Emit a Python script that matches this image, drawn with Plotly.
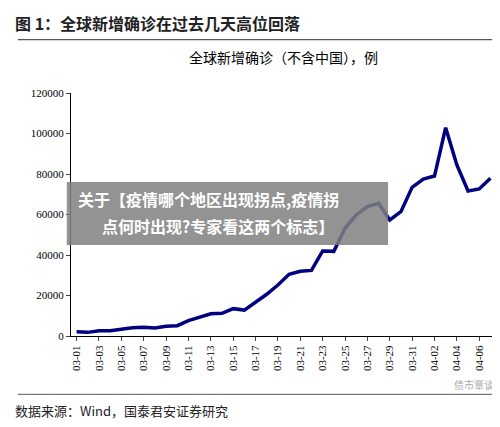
import plotly.graph_objects as go

dates = ["03-%02d" % d for d in range(1, 32)] + ["04-%02d" % d for d in range(1, 8)]
new_cases = [2100, 1800, 2600, 2600, 3300, 4100, 4300, 3900, 4800, 5100,
             7600, 9200, 11000, 11200, 13500, 12800, 16600, 20600, 25200, 30500,
             32000, 32400, 42000, 41800, 53200, 59800, 63900, 65500, 57300, 61400,
             73400, 77500, 79000, 102900, 84500, 71600, 72600, 77900]
tick_idx = list(range(0, 38, 2))
tick_text = [dates[i] for i in tick_idx]
banner_lines = ["关于【疫情哪个地区出现拐点,疫情拐", "点何时出现?专家看这两个标志】"]

font = "Noto Sans CJK SC"
fig = go.Figure()
fig.add_trace(go.Scatter(x=list(range(len(dates))), y=new_cases, mode="lines",
                         line=dict(color="#000080", width=3.5)))

fig.update_layout(
    width=500, height=427, margin=dict(l=63, r=12, t=85, b=99),
    paper_bgcolor="white", plot_bgcolor="white", showlegend=False,
    font=dict(family="Liberation Serif, serif", size=11, color="black"),
    xaxis=dict(range=[-0.5, 37.5], tickvals=tick_idx, ticktext=tick_text, tickangle=-90,
               showline=True, linecolor="black", ticks="outside", ticklen=4,
               showgrid=False, zeroline=False, automargin=False,
               tickfont=dict(family="Liberation Serif", size=11)),
    yaxis=dict(range=[0, 120000], dtick=20000, tickformat="d", showline=True,
               linecolor="black", ticks="outside", ticklen=4, showgrid=False,
               zeroline=False, automargin=False,
               tickfont=dict(family="Liberation Serif", size=11)),
)

fig.add_annotation(text="<b>图 1：全球新增确诊在过去几天高位回落</b>", xref="paper", yref="paper",
                   x=0, xanchor="left", y=1, yanchor="top", xshift=-58, yshift=84,
                   showarrow=False, font=dict(family=font, size=16, color="#222"))
fig.add_shape(type="line", xref="paper", yref="paper", x0=-0.125, x1=1.02,
              y0=1.22, y1=1.22, line=dict(color="#555", width=1.2))
fig.add_annotation(text="全球新增确诊（不含中国），例", xref="paper", yref="paper",
                   x=0.5, y=1.1, yanchor="bottom", showarrow=False,
                   font=dict(family=font, size=14, color="black"))
fig.add_annotation(text="数据来源：Wind，国泰君安证券研究", xref="paper", yref="paper",
                   x=0, xanchor="left", y=0, yanchor="top", xshift=-58, yshift=-63,
                   showarrow=False, font=dict(family=font, size=13, color="#222"))
fig.add_shape(type="line", xref="paper", yref="paper", x0=-0.125, x1=1.02,
              y0=-0.24, y1=-0.24, line=dict(color="#555", width=1))

# overlay banner
fig.add_shape(type="rect", xref="paper", yref="paper", x0=-0.01, x1=0.746,
              y0=0.375, y1=0.634, fillcolor="rgba(128,128,128,0.85)", line=dict(width=0))
for i, (line_txt, xl) in enumerate(zip(banner_lines, [0.012, 0.068])):
    fig.add_annotation(text="<b>" + line_txt + "</b>", xref="paper", yref="paper",
                       x=xl, xanchor="left", y=0.562 - i * 0.108, yanchor="middle",
                       showarrow=False, font=dict(family=font, size=16, color="white"))
fig.add_annotation(text="债市覃谈", xref="paper", yref="paper", x=1, xanchor="right",
                   y=-0.24, yanchor="bottom", showarrow=False,
                   font=dict(family=font, size=10, color="#aaa"))

fig.write_html("out.html")
